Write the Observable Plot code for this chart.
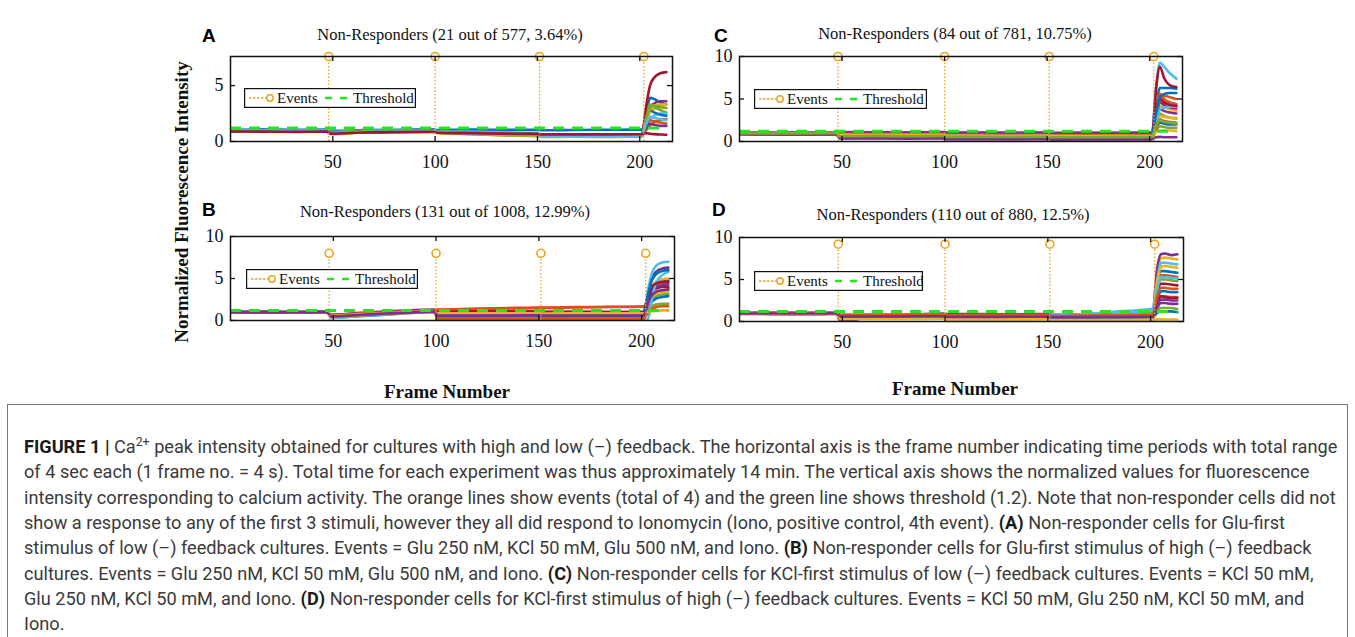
<!DOCTYPE html>
<html>
<head>
<meta charset="utf-8">
<script src="https://cdn.jsdelivr.net/npm/d3@7"></script>
<script src="https://cdn.jsdelivr.net/npm/@observablehq/plot@0.6"></script>
<style>
  html, body { margin: 0; padding: 0; background: #fff; }
  #page { position: relative; width: 1355px; height: 637px; overflow: hidden; background: #fff; }
  .abs { position: absolute; }
  .title { font-family: 'Liberation Serif', 'Times New Roman', serif; font-size: 16.5px; color: #111;
           white-space: nowrap; line-height: 1; transform: translate(-50%, -50%); }
  .letter { font-family: 'Liberation Sans', Arial, sans-serif; font-weight: bold; font-size: 19px;
            color: #000; line-height: 1; transform: translateY(-50%); }
  .axt { font-family: 'Liberation Serif', 'Times New Roman', serif; font-weight: bold; font-size: 19px;
         color: #111; white-space: nowrap; line-height: 1; transform: translate(-50%, -50%); }
  .axt.rot { transform: translate(-50%, -50%) rotate(-90deg); }
  #capbox { position: absolute; left: 7px; top: 404px; width: 1341px; height: 260px;
            border: 1px solid #777; box-sizing: border-box; }
  .capline { position: absolute; left: 24px; white-space: nowrap; font-family: Roboto, 'Liberation Sans', sans-serif;
             color: #3a3a3a; line-height: 1; transform: translateY(-50%); font-size: 16px; }
  .capline b { color: #1a1a1a; }
  .capline sup { font-size: 0.68em; vertical-align: 0.6em; line-height: 0; }
  svg.plot-panel { max-width: none; }
</style>
</head>
<body>
<div id="page"></div>
<script>
// ---- shared axis settings -------------------------------------------------
const xTicks = [50, 100, 150, 200];
const yTicksA = [0, 5];
const yTicksBCD = [0, 5, 10];
const events = [48, 100, 151, 202];         // stimulus frames (4th = Iono)
const threshold = 1.2;
const lastFrame = 213;

// sampled frames shared by all traces
const frames = [0, 16, 32, 47, 49, 65, 82, 99, 101, 118, 134, 150, 152, 168, 185, 201, 203, 205, 207, 210, 213];

// ---- panel titles -----------------------------------------------------------
const titleA = "Non-Responders (21 out of 577, 3.64%)";
const titleB = "Non-Responders (131 out of 1008, 12.99%)";
const titleC = "Non-Responders (84 out of 781, 10.75%)";
const titleD = "Non-Responders (110 out of 880, 12.5%)";

// ---- normalized fluorescence traces (one row per cell, values at `frames`) ---
const tracesA = [
  [1.05,1.08,1.04,1.06,0.95,1.02,1.05,1.08,1.02,1.06,1.04,1.05,1.0,1.03,1.05,1.06,2.2,3.9,3.8,3.5,3.3],
  [0.95,0.97,0.94,0.96,0.7,0.85,0.9,0.92,0.8,0.75,0.68,0.62,0.5,0.52,0.5,0.52,1.0,1.4,1.7,1.9,2.0],
  [0.9,0.92,0.9,0.93,0.65,0.8,0.86,0.9,0.75,0.65,0.56,0.5,0.42,0.45,0.44,0.46,1.6,2.6,2.9,3.0,3.0],
  [1.0,1.0,0.98,1.0,0.8,0.9,0.95,0.98,0.88,0.82,0.75,0.7,0.58,0.6,0.6,0.62,1.8,3.0,3.4,3.6,3.6],
  [0.95,0.96,0.95,0.97,0.72,0.84,0.9,0.93,0.78,0.66,0.55,0.48,0.4,0.42,0.4,0.42,2.4,3.3,3.1,2.8,2.6],
  [1.02,1.03,1.0,1.02,0.85,0.95,1.0,1.02,0.92,0.88,0.82,0.78,0.62,0.64,0.63,0.65,1.4,2.0,2.3,2.5,2.5],
  [0.92,0.9,0.88,0.9,0.75,0.82,0.86,0.88,0.8,0.74,0.7,0.66,0.6,0.62,0.62,0.64,3.0,5.0,5.7,6.1,6.2],
  [0.98,0.98,0.97,0.99,0.78,0.88,0.93,0.96,0.85,0.78,0.7,0.64,0.55,0.57,0.56,0.58,1.9,2.8,2.6,2.4,2.3],
  [0.97,0.96,0.95,0.97,0.74,0.86,0.9,0.94,0.83,0.76,0.7,0.64,0.52,0.55,0.54,0.56,1.3,1.9,1.8,1.7,1.6],
  [0.94,0.95,0.93,0.95,0.7,0.83,0.88,0.91,0.8,0.7,0.6,0.55,0.46,0.48,0.47,0.5,1.8,2.9,3.2,3.3,3.3],
  [0.96,0.97,0.95,0.98,0.76,0.87,0.92,0.95,0.84,0.76,0.68,0.62,0.52,0.54,0.54,0.56,1.2,1.6,1.5,1.4,1.4],
  [1.0,1.01,0.99,1.01,0.82,0.92,0.96,0.99,0.88,0.8,0.72,0.66,0.56,0.58,0.58,0.6,2.0,3.0,3.2,3.1,3.0],
  [0.93,0.94,0.92,0.94,0.72,0.84,0.88,0.92,0.8,0.72,0.64,0.58,0.48,0.5,0.5,0.52,1.5,2.2,2.1,2.0,1.9],
  [0.9,0.88,0.86,0.88,0.7,0.8,0.84,0.86,0.78,0.74,0.7,0.68,0.64,0.64,0.64,0.65,0.75,0.7,0.66,0.62,0.6]
];

const tracesB = [
  [1.0,1.02,1.0,1.02,0.35,0.55,0.8,1.05,0.6,0.62,0.62,0.64,0.6,0.62,0.62,0.64,2.0,3.5,4.2,4.6,4.8],
  [0.95,0.96,0.95,0.97,0.6,0.8,1.0,1.2,1.25,1.35,1.42,1.48,1.5,1.55,1.6,1.65,2.2,3.0,3.4,3.6,3.7],
  [1.05,1.05,1.03,1.05,0.5,0.75,0.95,1.15,0.7,0.72,0.72,0.74,0.7,0.72,0.72,0.74,2.5,4.0,4.6,4.9,5.0],
  [1.0,1.0,0.98,1.0,0.7,0.95,1.15,1.3,1.2,1.15,1.1,1.08,1.05,1.04,1.02,1.02,3.0,5.0,5.8,6.2,6.3],
  [0.98,0.98,0.97,0.99,0.55,0.75,0.92,1.1,0.9,0.9,0.88,0.9,0.88,0.88,0.87,0.88,1.6,2.5,2.9,3.1,3.2],
  [1.02,1.03,1.01,1.03,0.3,0.6,0.85,1.1,0.25,0.3,0.3,0.32,0.3,0.32,0.32,0.34,3.5,5.6,6.5,6.9,7.0],
  [0.96,0.97,0.95,0.97,0.65,0.85,1.0,1.15,1.0,1.0,1.0,1.0,0.98,0.98,0.98,0.98,2.4,3.4,3.8,4.0,4.0],
  [0.94,0.95,0.94,0.96,0.45,0.65,0.85,1.05,0.5,0.5,0.5,0.52,0.48,0.5,0.5,0.52,1.4,2.2,2.6,2.8,2.9],
  [1.0,1.01,0.99,1.01,0.7,0.9,1.05,1.2,1.3,1.4,1.48,1.55,1.55,1.6,1.63,1.67,2.6,3.8,4.3,4.5,4.6],
  [0.92,0.93,0.92,0.94,0.4,0.62,0.82,1.0,0.3,0.32,0.32,0.34,0.3,0.32,0.32,0.33,1.8,2.8,3.2,3.4,3.5],
  [0.97,0.98,0.96,0.98,0.55,0.78,0.95,1.12,0.45,0.46,0.46,0.48,0.44,0.46,0.46,0.48,2.2,3.6,4.0,4.2,4.3],
  [1.03,1.04,1.02,1.04,0.6,0.8,0.98,1.15,0.7,0.72,0.72,0.72,0.7,0.72,0.72,0.72,1.2,1.7,1.9,2.0,2.0],
  [0.95,0.96,0.95,0.97,0.5,0.7,0.9,1.08,0.2,0.22,0.22,0.24,0.2,0.22,0.22,0.24,0.1,2.5,4.5,5.4,5.8],
  [0.99,1.0,0.98,1.0,0.6,0.82,1.0,1.18,1.02,1.04,1.04,1.04,1.0,1.02,1.02,1.02,2.8,4.0,4.4,4.6,4.6],
  [1.01,1.02,1.0,1.02,0.5,0.72,0.9,1.1,0.55,0.55,0.56,0.56,0.54,0.55,0.56,0.57,3.0,4.8,5.5,5.9,6.0],
  [0.93,0.94,0.93,0.95,0.45,0.68,0.88,1.05,0.2,0.22,0.22,0.22,0.2,0.2,0.2,0.22,0.9,1.4,1.6,1.7,1.7],
  [0.97,0.98,0.97,0.99,0.6,0.8,0.97,1.12,0.85,0.85,0.86,0.86,0.84,0.85,0.85,0.86,1.0,1.1,1.15,1.2,1.2],
  [0.96,0.97,0.96,0.98,0.5,0.72,0.9,1.06,0.6,0.6,0.6,0.62,0.58,0.6,0.6,0.62,2.0,3.0,3.4,3.6,3.7]
];

const tracesC = [
  [1.0,1.02,1.0,1.02,1.05,1.04,1.05,1.03,1.0,1.02,1.0,1.02,1.0,1.02,1.03,1.05,4.0,6.3,6.3,6.3,6.2],
  [0.95,0.96,0.94,0.96,0.55,0.6,0.58,0.6,0.45,0.5,0.48,0.5,0.4,0.42,0.45,0.48,3.5,5.6,5.0,4.6,4.4],
  [0.9,0.92,0.9,0.92,0.5,0.52,0.5,0.52,0.4,0.42,0.4,0.42,0.35,0.36,0.38,0.4,2.5,4.2,4.0,3.8,3.6],
  [1.05,1.06,1.04,1.06,1.1,1.08,1.06,1.1,1.05,1.04,1.02,1.04,1.0,1.02,1.0,1.02,3.0,4.6,4.3,4.0,3.9],
  [0.88,0.9,0.88,0.9,0.45,0.48,0.46,0.5,0.35,0.38,0.36,0.38,0.3,0.32,0.33,0.35,2.2,3.3,3.0,2.8,2.7],
  [0.98,1.0,0.98,1.0,0.7,0.72,0.7,0.72,0.6,0.62,0.6,0.62,0.55,0.56,0.57,0.6,6.0,9.3,8.8,8.0,7.4],
  [0.85,0.82,0.8,0.84,0.5,0.45,0.42,0.48,0.38,0.34,0.32,0.36,0.3,0.34,0.42,0.3,6.0,8.8,7.5,6.6,6.4],
  [0.92,0.94,0.92,0.94,0.6,0.62,0.6,0.62,0.5,0.52,0.5,0.52,0.45,0.46,0.47,0.5,1.5,2.2,2.1,2.0,2.0],
  [1.0,1.02,1.0,1.02,0.9,0.88,0.86,0.9,0.8,0.78,0.76,0.8,0.7,0.72,0.72,0.75,2.8,4.8,5.4,5.2,5.0],
  [0.96,0.97,0.95,0.97,0.65,0.66,0.64,0.66,0.55,0.56,0.54,0.56,0.5,0.5,0.52,0.54,2.0,3.0,2.9,2.8,2.8],
  [0.9,0.9,0.88,0.9,0.4,0.42,0.4,0.42,0.3,0.3,0.28,0.3,0.25,0.26,0.27,0.28,2.4,3.8,3.6,3.4,3.3],
  [0.94,0.95,0.93,0.95,0.55,0.57,0.55,0.57,0.45,0.46,0.45,0.47,0.4,0.41,0.42,0.44,1.2,1.8,1.7,1.6,1.6],
  [0.9,0.92,0.9,0.92,0.5,0.52,0.5,0.52,0.42,0.43,0.42,0.44,0.38,0.38,0.4,0.42,2.2,3.8,4.0,4.1,4.1],
  [0.96,0.96,0.94,0.96,0.6,0.58,0.55,0.58,0.5,0.48,0.46,0.5,0.44,0.45,0.46,0.48,3.5,5.0,4.6,4.3,4.2],
  [1.0,1.0,0.98,1.0,0.75,0.76,0.74,0.76,0.65,0.66,0.64,0.66,0.6,0.6,0.62,0.64,3.2,5.2,5.6,5.7,5.7],
  [0.92,0.93,0.91,0.93,0.48,0.5,0.48,0.5,0.38,0.4,0.38,0.4,0.34,0.35,0.36,0.38,1.4,2.6,2.4,2.3,2.2],
  [0.98,0.99,0.97,0.99,0.8,0.8,0.78,0.8,0.7,0.7,0.68,0.7,0.64,0.65,0.66,0.68,1.1,1.3,1.3,1.3,1.2],
  [0.88,0.88,0.86,0.88,0.35,0.36,0.34,0.36,0.28,0.28,0.27,0.28,0.24,0.25,0.25,0.26,0.5,0.55,0.5,0.5,0.5],
  [0.95,0.96,0.95,0.97,0.62,0.64,0.62,0.64,0.55,0.55,0.53,0.55,0.5,0.5,0.51,0.53,1.8,2.5,2.3,2.2,2.1]
];

const tracesD = [
  [1.0,1.01,1.0,1.02,0.6,0.62,0.64,0.66,0.55,0.56,0.56,0.58,0.45,0.5,0.6,0.7,4.0,6.0,6.0,5.9,5.8],
  [0.95,0.96,0.95,0.96,0.7,0.7,0.72,0.74,0.6,0.6,0.62,0.62,0.5,0.55,0.62,0.7,3.6,5.5,5.5,5.4,5.3],
  [0.92,0.92,0.9,0.92,0.35,0.36,0.36,0.38,0.3,0.3,0.3,0.3,0.2,0.2,0.2,0.22,5.0,7.5,7.6,7.5,7.4],
  [1.05,1.06,1.04,1.06,0.0,0.6,0.8,0.95,0.9,0.88,0.86,0.9,0.8,0.85,0.9,0.95,6.0,8.0,8.1,7.9,8.0],
  [0.98,0.98,0.97,0.99,0.5,0.52,0.52,0.54,0.45,0.46,0.46,0.48,0.4,0.42,0.44,0.48,3.2,5.0,5.0,4.9,4.8],
  [1.02,1.03,1.01,1.03,0.8,0.82,0.82,0.84,0.75,0.76,0.76,0.78,0.7,0.9,1.2,1.5,4.6,7.0,7.0,6.9,6.8],
  [0.9,0.88,0.86,0.9,0.55,0.55,0.56,0.58,0.5,0.5,0.5,0.52,0.45,0.46,0.48,0.5,3.0,4.5,4.5,4.4,4.3],
  [0.96,0.97,0.96,0.98,0.65,0.66,0.66,0.68,0.58,0.58,0.6,0.6,0.5,0.6,0.8,1.0,2.4,3.6,3.6,3.5,3.5],
  [0.93,0.94,0.93,0.95,0.4,0.42,0.42,0.44,0.35,0.36,0.36,0.38,0.3,0.32,0.34,0.36,2.0,3.0,3.0,2.9,2.9],
  [0.97,0.98,0.97,0.99,0.7,0.72,0.72,0.74,0.65,0.66,0.66,0.68,0.55,0.6,0.65,0.7,4.2,6.5,6.6,6.5,6.4],
  [0.94,0.95,0.94,0.96,0.45,0.46,0.46,0.48,0.4,0.4,0.4,0.42,0.35,0.36,0.38,0.4,1.5,2.2,2.2,2.1,2.1],
  [1.0,1.0,0.99,1.01,0.75,0.76,0.76,0.78,0.7,0.7,0.7,0.72,0.6,0.7,0.85,1.0,1.2,1.6,1.6,1.6,1.5],
  [0.96,0.96,0.95,0.97,0.55,0.56,0.56,0.58,0.5,0.5,0.5,0.52,0.45,0.6,0.9,1.3,3.5,5.3,5.3,5.2,5.1],
  [0.98,0.99,0.97,0.99,0.6,0.6,0.62,0.62,0.55,0.55,0.56,0.56,0.5,0.52,0.54,0.56,2.0,3.0,2.9,2.8,2.8],
  [0.92,0.93,0.92,0.94,0.5,0.5,0.52,0.52,0.45,0.45,0.46,0.46,0.4,0.42,0.44,0.46,1.0,1.2,1.2,1.2,1.1],
  [0.99,1.0,0.99,1.01,0.8,0.8,0.82,0.82,0.72,0.72,0.74,0.74,0.65,0.7,0.75,0.8,2.8,4.0,4.0,3.9,3.9],
  [0.9,0.9,0.89,0.91,0.3,0.3,0.3,0.32,0.25,0.25,0.25,0.26,0.2,0.2,0.21,0.22,0.25,0.25,0.24,0.24,0.24],
  [0.95,0.96,0.95,0.97,0.6,0.6,0.62,0.62,0.55,0.55,0.56,0.56,0.5,0.52,0.54,0.56,1.8,2.6,2.6,2.5,2.5]
];

// ---- caption text -----------------------------------------------------------
const captionLines = [
  "<b>FIGURE 1 |</b> Ca<sup>2+</sup> peak intensity obtained for cultures with high and low (–) feedback. The horizontal axis is the frame number indicating time periods with total range",
  "of 4 sec each (1 frame no. = 4 s). Total time for each experiment was thus approximately 14 min. The vertical axis shows the normalized values for fluorescence",
  "intensity corresponding to calcium activity. The orange lines show events (total of 4) and the green line shows threshold (1.2). Note that non-responder cells did not",
  "show a response to any of the first 3 stimuli, however they all did respond to Ionomycin (Iono, positive control, 4th event). <b>(A)</b> Non-responder cells for Glu-first",
  "stimulus of low (–) feedback cultures. Events = Glu 250 nM, KCl 50 mM, Glu 500 nM, and Iono. <b>(B)</b> Non-responder cells for Glu-first stimulus of high (–) feedback",
  "cultures. Events = Glu 250 nM, KCl 50 mM, Glu 500 nM, and Iono. <b>(C)</b> Non-responder cells for KCl-first stimulus of low (–) feedback cultures. Events = KCl 50 mM,",
  "Glu 250 nM, KCl 50 mM, and Iono. <b>(D)</b> Non-responder cells for KCl-first stimulus of high (–) feedback cultures. Events = KCl 50 mM, Glu 250 nM, KCl 50 mM, and",
  "Iono."
];

// ---- styling ------------------------------------------------------------------
const palette = ["#0072BD", "#D95319", "#EDB120", "#7E2F8E", "#77AC30", "#4DBEEE", "#A2142F"];
const eventColor = "#EDA420";
const thresholdColor = "#22E622";
const xDomain = [0, 216];
const ML = 40, MR = 12, MT = 12, MB = 36;

const panels = [
  {key: "A", title: titleA, traces: tracesA, yMax: 7.6, yTicks: yTicksA, eventY: 7.6,
   left: 190, top: 44, innerW: 442, innerH: 85,
   titleX: 450, titleY: 35, letterX: 202, letterY: 35, legend: [244, 88, 172]},
  {key: "B", title: titleB, traces: tracesB, yMax: 10, yTicks: yTicksBCD, eventY: 8,
   left: 190, top: 224, innerW: 444, innerH: 84,
   titleX: 445, titleY: 212, letterX: 202, letterY: 209, legend: [246, 269, 172]},
  {key: "C", title: titleC, traces: tracesC, yMax: 10, yTicks: yTicksBCD, eventY: 10,
   left: 699, top: 44, innerW: 443, innerH: 85,
   titleX: 955, titleY: 34, letterX: 714, letterY: 35, legend: [754, 89, 173]},
  {key: "D", title: titleD, traces: tracesD, yMax: 10, yTicks: yTicksBCD, eventY: 9.2,
   left: 699, top: 225, innerW: 444, innerH: 84,
   titleX: 953, titleY: 215, letterX: 712, letterY: 209, legend: [754, 271, 169]}
];

const page = document.getElementById("page");

function addDiv(cls, html, x, y) {
  const d = document.createElement("div");
  d.className = "abs " + cls;
  d.innerHTML = html;
  d.style.left = x + "px";
  d.style.top = y + "px";
  page.appendChild(d);
  return d;
}

function legendSvg(w) {
  const h = 20;
  return `<svg width="${w}" height="${h}" style="display:block;overflow:visible">
    <rect x="0.6" y="0.6" width="${w - 1.2}" height="${h - 1.2}" fill="#fff" stroke="#111" stroke-width="1.2"/>
    <line x1="5" x2="23" y1="10" y2="10" stroke="${eventColor}" stroke-width="1.3" stroke-dasharray="2.5,1.5"/>
    <circle cx="26" cy="10" r="3.2" fill="#fff" stroke="${eventColor}" stroke-width="1.5"/>
    <text x="33" y="15" font-family="'Liberation Serif','Times New Roman',serif" font-size="15" fill="#111">Events</text>
    <line x1="81" x2="104" y1="10" y2="10" stroke="${thresholdColor}" stroke-width="2.5" stroke-dasharray="7,8"/>
    <text x="109" y="15" font-family="'Liberation Serif','Times New Roman',serif" font-size="15" fill="#111">Threshold</text>
  </svg>`;
}

function drawPanel(p) {
  const rows = p.traces.flatMap((vals, i) =>
    vals.map((v, j) => ({frame: frames[j], value: v, cell: i})));
  const chart = Plot.plot({
    width: ML + p.innerW + MR,
    height: MT + p.innerH + MB,
    marginLeft: ML, marginRight: MR, marginTop: MT, marginBottom: MB,
    style: {fontFamily: "'Liberation Serif', 'Times New Roman', serif", fontSize: "18px",
            color: "#111", background: "transparent", overflow: "visible"},
    x: {domain: xDomain, ticks: xTicks, tickSize: 0, tickPadding: 14, label: null},
    y: {domain: [0, p.yMax], ticks: p.yTicks, tickSize: 0, tickPadding: 7, label: null},
    color: {type: "identity"},
    marks: [
      Plot.line(rows, {x: "frame", y: "value", z: "cell",
        stroke: d => palette[d.cell % palette.length],
        strokeWidth: 2.6, curve: "monotone-x", clip: true}),
      Plot.ruleX(events, {x: d => d, y1: 0, y2: p.eventY, stroke: eventColor,
        strokeWidth: 1.3, strokeDasharray: "1.5,2"}),
      Plot.ruleY([threshold], {y: d => d, x1: xDomain[0], x2: lastFrame,
        stroke: thresholdColor, strokeWidth: 3, strokeDasharray: "11,8"}),
      Plot.dot(events, {x: d => d, y: p.eventY, r: 4, fill: "white",
        stroke: eventColor, strokeWidth: 1.6}),
      Plot.frame({stroke: "#111", strokeWidth: 1.5}),
      // inward tick marks on all four sides
      Plot.tickX(xTicks, {x: d => d, insetTop: p.innerH - 5, stroke: "#111", strokeWidth: 1.3}),
      Plot.tickX(xTicks, {x: d => d, insetBottom: p.innerH - 5, stroke: "#111", strokeWidth: 1.3}),
      Plot.tickY(p.yTicks, {y: d => d, insetRight: p.innerW - 5, stroke: "#111", strokeWidth: 1.3}),
      Plot.tickY(p.yTicks, {y: d => d, insetLeft: p.innerW - 5, stroke: "#111", strokeWidth: 1.3})
    ]
  });
  chart.classList.add("plot-panel");
  chart.style.position = "absolute";
  chart.style.left = p.left + "px";
  chart.style.top = p.top + "px";
  page.appendChild(chart);

  addDiv("title", p.title, p.titleX, p.titleY);
  addDiv("letter", p.key, p.letterX, p.letterY);
  addDiv("", legendSvg(p.legend[2]), p.legend[0], p.legend[1]);
}

panels.forEach(drawPanel);

// shared axis titles
addDiv("axt rot", "Normalized Fluorescence Intensity", 181, 202);
addDiv("axt", "Frame Number", 447, 391);
addDiv("axt", "Frame Number", 955, 388);

// caption box
const box = document.createElement("div");
box.id = "capbox";
page.appendChild(box);
const lineEls = captionLines.map((html, i) => addDiv("capline", html, 24, 447 + i * 25.3));
// size the caption font so the first line spans the text column
const w0 = lineEls[0].getBoundingClientRect().width;
const fs = 16 * 1314 / w0;
lineEls.forEach(el => el.style.fontSize = fs.toFixed(2) + "px");
</script>
</body>
</html>
